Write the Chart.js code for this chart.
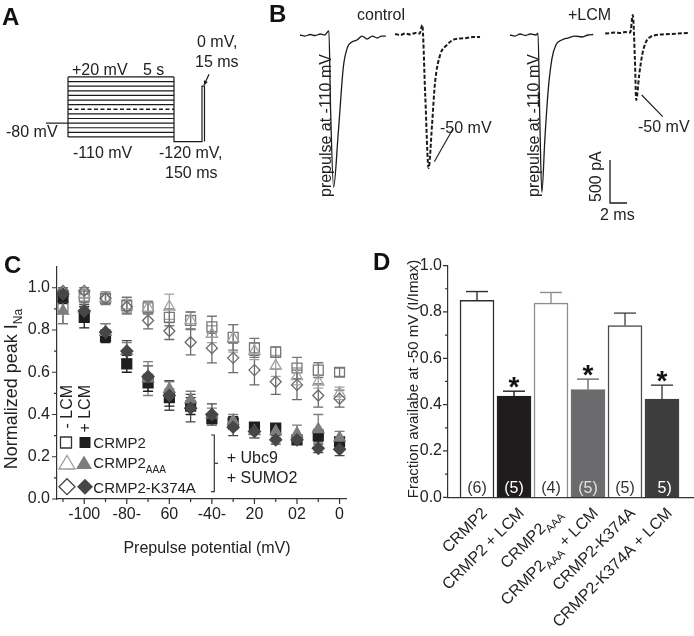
<!DOCTYPE html>
<html>
<head>
<meta charset="utf-8">
<script src="https://cdn.jsdelivr.net/npm/chart.js@4.4.0/dist/chart.umd.min.js"></script>
<style>
  body { margin: 0; background: #fff; width: 694px; height: 636px; position: relative; overflow: hidden; }
  canvas { position: absolute; }
</style>
</head>
<body>
<canvas id="panelA" width="260" height="230" style="left:0;top:0"></canvas>
<canvas id="panelB" width="434" height="230" style="left:260px;top:0"></canvas>
<canvas id="panelC" width="350" height="340" style="left:0;top:250px"></canvas>
<canvas id="panelD" width="334" height="386" style="left:360px;top:250px"></canvas>
<script>
// ---------- A: voltage protocol (schematic, not to scale) ----------
const stepLevels = [20, 10, 0, -10, -20, -30, -40, -50, -60, -70, -80, -90, -100, -110]; // mV
const holdV = -80, recoveryV = -120, testV = 0, dashedLevel = -50;
// hold start, prepulse on, prepulse off, test on, test off (schematic time units)
const protocolTimes = [0, 22, 128, 156, 158.5];

// ---------- B: current traces (ms, pA) ----------
const ctlPre = [[0,0],[0.6,-12],[1.2,6],[1.8,-6],[2.4,12],[2.9,0],[3.4,47],[3.6,-870],[3.95,-1770],[4.5,-1140],[5.1,-372],[5.6,-140],[6.1,-81],[6.7,-58],[7.3,-12],[7.9,-47],[8.5,-12],[9.1,-35],[9.6,-12],[10.1,-12]];
const ctlTest = [[0,12],[0.6,0],[1.2,17],[1.8,6],[2.4,23],[2.9,17],[3.2,116],[3.55,-698],[3.95,-1547],[4.35,-1047],[4.7,-558],[5.3,-233],[6.1,-116],[6.8,-58],[7.6,-41],[8.4,-35],[9.2,-23],[10.0,-23]];
const lcmPre = [[0,0],[0.6,-12],[1.2,12],[1.8,-6],[2.4,12],[3.05,0],[3.3,23],[3.5,-930],[3.75,-1830],[4.1,-1220],[4.5,-640],[4.95,-270],[5.4,-116],[6.1,-58],[6.8,-35],[7.65,-12],[8.5,-23],[9.2,0],[9.8,6]];
const lcmTest = [[0,17],[0.6,23],[1.2,29],[1.8,23],[2.35,35],[2.95,29],[3.25,233],[3.5,-291],[3.65,-756],[4.0,-465],[4.35,-233],[4.8,-81],[5.3,-23],[6.0,0],[6.7,6],[7.65,12],[8.6,17],[9.75,23]];
const scaleBarPa = 500, scaleBarMs = 2;

// ---------- C: steady-state inactivation ----------
const prepulseMv = [-110, -100, -90, -80, -70, -60, -50, -40, -30, -20, -10, 0, 10, 20];
const crmp2Ctl    = [0.91, 0.96, 0.95, 0.915, 0.905, 0.86, 0.845, 0.815, 0.765, 0.715, 0.695, 0.62, 0.61, 0.60];
const crmp2CtlErr = [0.08, 0.03, 0.03, 0.04, 0.03, 0.04, 0.04, 0.05, 0.06, 0.045, 0.025, 0.05, 0.035, 0.02];
const aaaCtl      = [0.975, 0.97, 0.95, 0.915, 0.905, 0.91, 0.845, 0.78, 0.76, 0.70, 0.63, 0.58, 0.555, 0.50];
const aaaCtlErr   = [0.02, 0.02, 0.02, 0.03, 0.03, 0.06, 0.04, 0.04, 0.065, 0.04, 0.05, 0.04, 0.03, 0.03];
const k374Ctl     = [0.985, 0.985, 0.95, 0.91, 0.845, 0.795, 0.742, 0.714, 0.668, 0.61, 0.555, 0.54, 0.49, 0.475];
const k374CtlErr  = [0.015, 0.015, 0.02, 0.03, 0.04, 0.04, 0.06, 0.07, 0.07, 0.07, 0.06, 0.07, 0.055, 0.04];
const crmp2Lcm    = [0.955, 0.86, 0.77, 0.64, 0.55, 0.48, 0.44, 0.38, 0.36, 0.34, 0.335, 0.28, 0.30, 0.27];
const crmp2LcmErr = [0.03, 0.05, 0.03, 0.04, 0.04, 0.04, 0.04, 0.02, 0.03, 0.02, 0.02, 0.02, 0.03, 0.02];
const aaaLcm      = [0.89, 0.90, 0.79, 0.70, 0.57, 0.52, 0.47, 0.40, 0.37, 0.32, 0.32, 0.31, 0.33, 0.29];
const aaaLcmErr   = [0.06, 0.03, 0.04, 0.04, 0.08, 0.035, 0.04, 0.03, 0.03, 0.03, 0.03, 0.04, 0.07, 0.03];
const k374Lcm     = [0.97, 0.89, 0.79, 0.70, 0.58, 0.49, 0.43, 0.40, 0.34, 0.32, 0.28, 0.28, 0.24, 0.235];
const k374LcmErr  = [0.02, 0.03, 0.04, 0.05, 0.05, 0.07, 0.065, 0.05, 0.04, 0.03, 0.02, 0.02, 0.02, 0.03];
const xTickValues = [-100, -80, -60, -40, -20, 0, 20];
const xTickLabels = ['-100', '-80-', '60', '-40-', '20', '02', '0'];

// ---------- D: fraction available at -50 mV ----------
const groups   = ['CRMP2', 'CRMP2 + LCM', 'CRMP2_{AAA}', 'CRMP2_{AAA} + LCM', 'CRMP2-K374A', 'CRMP2-K374A + LCM'];
const barMeans = [0.85, 0.437, 0.838, 0.465, 0.741, 0.424];
const barErr   = [0.038, 0.021, 0.046, 0.045, 0.054, 0.06];
const barN     = ['(6)', '(5)', '(4)', '(5)', '(5)', '5)'];
const starred  = [false, true, false, true, false, true];

// ---------- common ----------
const FONT = '"Liberation Sans", Arial, Helvetica, sans-serif';
const INK = '#222';
Chart.defaults.font.family = FONT;
Chart.defaults.font.size = 16;
Chart.defaults.color = INK;
Chart.defaults.plugins.legend.display = false;
Chart.defaults.plugins.tooltip.enabled = false;

function font(size, bold) { return (bold ? 'bold ' : '') + size + 'px ' + FONT; }

function richParts(text) {
  return text.split(/(_\{[^}]*\})/).filter(s => s).map(s =>
    s.startsWith('_{') ? { t: s.slice(2, -1), sub: true } : { t: s, sub: false });
}
// text with _{sub} pieces, drawn at current transform
function drawRich(ctx, text, x, y, size, align) {
  const parts = richParts(text);
  const subSize = Math.round(size * 0.68);
  let w = 0;
  parts.forEach(p => { ctx.font = font(p.sub ? subSize : size); p.w = ctx.measureText(p.t).width; w += p.w; });
  let cx = align === 'right' ? x - w : align === 'center' ? x - w / 2 : x;
  ctx.textAlign = 'left';
  ctx.textBaseline = 'alphabetic';
  parts.forEach(p => {
    ctx.font = font(p.sub ? subSize : size);
    ctx.fillText(p.t, cx, p.sub ? y + size * 0.3 : y);
    cx += p.w;
  });
}
function text(ctx, s, x, y, size, opts) {
  opts = opts || {};
  ctx.save();
  ctx.fillStyle = opts.color || INK;
  ctx.translate(x, y);
  if (opts.rot) ctx.rotate(opts.rot);
  drawRich(ctx, s, 0, 0, size, opts.align || 'left');
  ctx.restore();
}
function letter(ctx, s, x, y) {
  ctx.save();
  ctx.fillStyle = '#111';
  ctx.font = font(24, true);
  ctx.textAlign = 'left';
  ctx.textBaseline = 'alphabetic';
  ctx.fillText(s, x, y);
  ctx.restore();
}
function line(ctx, pts, color, width) {
  ctx.save();
  ctx.strokeStyle = color || INK;
  ctx.lineWidth = width || 1.2;
  ctx.beginPath();
  pts.forEach((p, i) => i ? ctx.lineTo(p[0], p[1]) : ctx.moveTo(p[0], p[1]));
  ctx.stroke();
  ctx.restore();
}
function seg(points, opts) {
  opts = opts || {};
  return {
    data: points.map(p => ({ x: p[0], y: p[1] })),
    borderColor: opts.color || '#1a1a1a',
    borderWidth: opts.width || 1.2,
    borderDash: opts.dash || [],
    pointRadius: 0,
    fill: false,
    tension: 0,
    cubicInterpolationMode: opts.smooth ? 'monotone' : 'default'
  };
}
const hiddenScales = (xmin, xmax, ymin, ymax) => ({
  x: { type: 'linear', display: false, min: xmin, max: xmax },
  y: { type: 'linear', display: false, min: ymin, max: ymax }
});
const baseOpts = { responsive: false, maintainAspectRatio: false, animation: false, events: [] };

// ---------- panel A ----------
const [t0, t1, t2, t3, t4] = protocolTimes;
const protoSets = [];
protoSets.push(seg([[t0, holdV], [t1, holdV]]));
stepLevels.forEach(v => protoSets.push(
  seg([[t1, v], [t2, v]], v === dashedLevel ? { dash: [4, 2.5], width: 1.6 } : {})));
protoSets.push(seg([[t1, stepLevels[0]], [t1, stepLevels[stepLevels.length - 1]]]));
protoSets.push(seg([[t2, stepLevels[0]], [t2, recoveryV], [t3, recoveryV], [t3, testV], [t4, testV], [t4, recoveryV]]));

new Chart(document.getElementById('panelA'), {
  type: 'line',
  data: { datasets: protoSets },
  options: Object.assign({}, baseOpts, {
    layout: { autoPadding: false, padding: 0 },
    scales: hiddenScales(-46, 214, -311.6, 186.8)
  }),
  plugins: [{
    id: 'aLabels',
    afterDraw(chart) {
      const c = chart.ctx;
      letter(c, 'A', 2, 25);
      text(c, '+20 mV', 72, 75, 16);
      text(c, '5 s', 143, 75, 16);
      text(c, '-80 mV', 6, 137, 16);
      text(c, '-110 mV', 73, 158, 16);
      text(c, '-120 mV,', 159, 158, 16);
      text(c, '150 ms', 165, 177.5, 16);
      text(c, '0 mV,', 197, 46.5, 16);
      text(c, '15 ms', 195, 66.5, 16);
      // arrow to the test pulse
      const xs = chart.scales.x, ys = chart.scales.y;
      const ex = xs.getPixelForValue(t3) + 2, ey = ys.getPixelForValue(testV) - 1;
      const sx = ex + 5, sy = ey - 11;
      line(c, [[sx, sy], [ex, ey]], '#1a1a1a', 1.2);
      const a = Math.atan2(ey - sy, ex - sx);
      c.save();
      c.fillStyle = '#1a1a1a';
      c.beginPath();
      c.moveTo(ex, ey);
      c.lineTo(ex - 5 * Math.cos(a - 0.45), ey - 5 * Math.sin(a - 0.45));
      c.lineTo(ex - 5 * Math.cos(a + 0.45), ey - 5 * Math.sin(a + 0.45));
      c.closePath();
      c.fill();
      c.restore();
    }
  }]
});

// ---------- panel B ----------
const traceStartMs = [0, 11.18, 24.7, 35.9];
const traces = [ctlPre, ctlTest, lcmPre, lcmTest];
const traceSets = traces.map((tr, i) => seg(tr.map(p => [p[0] + traceStartMs[i], p[1]]),
  i % 2 ? { dash: [4, 2], width: 2, smooth: true, color: '#1a1a1a' } : { width: 1.3, smooth: true, color: '#1a1a1a' }));
const barX = 36.47, barY = -1953;
traceSets.push(seg([[barX, barY + scaleBarPa], [barX, barY], [barX + scaleBarMs, barY]], { width: 1.3 }));

new Chart(document.getElementById('panelB'), {
  type: 'line',
  data: { datasets: traceSets },
  options: Object.assign({}, baseOpts, {
    layout: { autoPadding: false, padding: 0 },
    scales: hiddenScales(-4.706, 46.35, -2267, 407)
  }),
  plugins: [{
    id: 'bLabels',
    afterDraw(chart) {
      const c = chart.ctx, o = 260;
      letter(c, 'B', 269 - o, 22);
      text(c, 'control', 357 - o, 20, 16);
      text(c, '+LCM', 568 - o, 20, 16);
      text(c, 'prepulse at -110 mV', 331 - o, 197, 16, { rot: -Math.PI / 2 });
      text(c, 'prepulse at -110 mV', 539 - o, 197, 16, { rot: -Math.PI / 2 });
      text(c, '-50 mV', 440 - o, 133, 16);
      line(c, [[453.3 - o, 128.3], [434.3 - o, 161.7]], '#1a1a1a', 1.1);
      text(c, '-50 mV', 638 - o, 132, 16);
      line(c, [[641.7 - o, 95], [662.7 - o, 116.7]], '#1a1a1a', 1.1);
      text(c, '500 pA', 601 - o, 202, 16, { rot: -Math.PI / 2 });
      text(c, '2 ms', 600 - o, 220, 16);
    }
  }]
});

// ---------- panel C ----------
const errorBars = {
  id: 'errorBars',
  beforeDatasetsDraw(chart, args, opts) {
    const c = chart.ctx, xs = chart.scales.x, ys = chart.scales.y;
    chart.data.datasets.forEach(ds => {
      if (!ds.errors) return;
      c.save();
      c.strokeStyle = ds.borderColor;
      c.lineWidth = opts.width || 1.3;
      ds.data.forEach((p, i) => {
        const e = ds.errors[i];
        const x = xs.getPixelForValue(p.x);
        const yl = ys.getPixelForValue(p.y - e), yh = ys.getPixelForValue(p.y + e);
        const hw = opts.cap || 5;
        c.beginPath();
        c.moveTo(x, yl); c.lineTo(x, yh);
        c.moveTo(x - hw, yh); c.lineTo(x + hw, yh);
        c.moveTo(x - hw, yl); c.lineTo(x + hw, yl);
        c.stroke();
      });
      c.restore();
    });
  }
};

function series(vals, errs, style, radius, color, filled) {
  return {
    data: prepulseMv.map((v, i) => ({ x: v, y: vals[i] })),
    errors: errs,
    pointStyle: style,
    pointRadius: radius,
    borderColor: color,
    backgroundColor: filled ? color : 'rgba(255,255,255,0)',
    borderWidth: 1.3,
    showLine: false
  };
}
// first dataset is drawn on top
const cSets = [
  series(k374Lcm, k374LcmErr, 'rectRot', 6, '#474747', true),
  series(aaaLcm, aaaLcmErr, 'triangle', 6.5, '#7d7d7d', true),
  series(crmp2Lcm, crmp2LcmErr, 'rect', 7, '#1e1e1e', true),
  series(k374Ctl, k374CtlErr, 'rectRot', 5.5, '#6a6a6a', false),
  series(aaaCtl, aaaCtlErr, 'triangle', 6.5, '#a3a3a3', false),
  series(crmp2Ctl, crmp2CtlErr, 'rect', 7, '#777777', false)
];

function tickMarks(c, scale, vertical, isMajor, keep) {
  c.save();
  c.strokeStyle = '#333';
  c.lineWidth = 1.2;
  c.beginPath();
  scale.ticks.forEach(t => {
    if (keep && !keep(t.value)) return;
    const len = isMajor(t.value) ? 5 : 3;
    const p = scale.getPixelForValue(t.value);
    if (vertical) { c.moveTo(scale.right, p); c.lineTo(scale.right - len, p); }
    else { c.moveTo(p, scale.top); c.lineTo(p, scale.top + len); }
  });
  c.stroke();
  c.restore();
}

function legendMark(c, kind, x, y, color, filled) {
  c.save();
  c.strokeStyle = color;
  c.fillStyle = color;
  c.lineWidth = 1.3;
  c.beginPath();
  if (kind === 'square') c.rect(x - 5.5, y - 5.5, 11, 11);
  if (kind === 'triangle') { c.moveTo(x, y - 7.5); c.lineTo(x + 8, y + 6); c.lineTo(x - 8, y + 6); c.closePath(); }
  if (kind === 'diamond') { c.moveTo(x, y - 8); c.lineTo(x + 8, y); c.lineTo(x, y + 8); c.lineTo(x - 8, y); c.closePath(); }
  if (filled) c.fill(); else c.stroke();
  c.restore();
}

new Chart(document.getElementById('panelC'), {
  type: 'scatter',
  data: { datasets: cSets },
  options: Object.assign({}, baseOpts, {
    layout: { autoPadding: false, padding: { top: 11.4, left: 0, right: 0, bottom: 0 } },
    plugins: { errorBars: { cap: 5, width: 1.3 } },
    scales: {
      x: {
        type: 'linear', min: -112.8, max: 23.25,
        grid: { display: false, drawTicks: false },
        border: { color: '#333', width: 1.2 },
        ticks: {
          stepSize: 10, includeBounds: false, autoSkip: false, maxRotation: 0, padding: 6,
          font: { size: 16 }, color: INK,
          callback: v => { const k = xTickValues.indexOf(Math.round(v)); return k >= 0 ? xTickLabels[k] : ''; }
        },
        afterFit: s => { s.height = 91; }
      },
      y: {
        type: 'linear', min: 0, max: 1.1,
        grid: { display: false, drawTicks: false },
        border: { color: '#333', width: 1.2 },
        ticks: {
          stepSize: 0.1, includeBounds: false, autoSkip: false, padding: 7,
          font: { size: 16 }, color: INK,
          callback: v => { const k = Math.round(v * 10); return (k % 2 === 0 && k <= 10) ? v.toFixed(1) : ''; }
        },
        afterFit: s => { s.width = 57; }
      }
    }
  }),
  plugins: [errorBars, {
    id: 'cDecor',
    afterDraw(chart) {
      const c = chart.ctx, o = 250;
      tickMarks(c, chart.scales.y, true, v => Math.round(v * 10) % 2 === 0, v => v <= 1.0001);
      tickMarks(c, chart.scales.x, false, v => Math.round(v) % 20 === 0);
      letter(c, 'C', 4, 273 - o);
      text(c, 'Normalized peak I_{Na}', 17, 389 - o, 18, { rot: -Math.PI / 2, align: 'center' });
      text(c, 'Prepulse potential (mV)', 207, 553 - o, 16, { align: 'center' });
      // legend
      text(c, '- LCM', 72, 428.5 - o, 16, { rot: -Math.PI / 2 });
      text(c, '+ LCM', 90, 432.6 - o, 16, { rot: -Math.PI / 2 });
      legendMark(c, 'square', 66, 442.5 - o, '#333', false);
      legendMark(c, 'square', 85, 442.5 - o, '#1e1e1e', true);
      legendMark(c, 'triangle', 67, 463 - o, '#9a9a9a', false);
      legendMark(c, 'triangle', 84, 463 - o, '#7d7d7d', true);
      legendMark(c, 'diamond', 67, 486.7 - o, '#444', false);
      legendMark(c, 'diamond', 85, 486.7 - o, '#474747', true);
      text(c, 'CRMP2', 93.3, 448.3 - o, 15);
      text(c, 'CRMP2_{AAA}', 93.3, 468.3 - o, 15);
      text(c, 'CRMP2-K374A', 93.3, 493.3 - o, 15);
      line(c, [[211, 435 - o], [214.3, 435 - o], [214.3, 491.7 - o], [211, 491.7 - o]], '#333', 1.2);
      line(c, [[214.3, 463.3 - o], [218, 463.3 - o]], '#333', 1.2);
      text(c, '+ Ubc9', 226.7, 463.3 - o, 16);
      text(c, '+ SUMO2', 226.7, 483.3 - o, 16);
    }
  }]
});

// ---------- panel D ----------
const barFill = ['#ffffff', '#1f1c1d', '#ffffff', '#6b6b6d', '#ffffff', '#3d3d3d'];
const barEdge = ['#2e2e2e', '#1f1c1d', '#8c8c8c', '#6b6b6d', '#4a4a4a', '#3d3d3d'];
const nColor  = ['#333', '#fff', '#333', '#e2e2e2', '#333', '#fff'];

new Chart(document.getElementById('panelD'), {
  type: 'bar',
  data: {
    datasets: [{
      data: barMeans.map((v, i) => ({ x: i, y: v })),
      backgroundColor: barFill,
      borderColor: barEdge,
      borderWidth: 1.5,
      barThickness: 34
    }]
  },
  options: Object.assign({}, baseOpts, {
    layout: { autoPadding: false, padding: { top: 11.7, left: 0, right: 1, bottom: 0 } },
    scales: {
      x: {
        type: 'linear', min: -0.784, max: 5.838, offset: false,
        grid: { display: false, drawTicks: false },
        border: { color: '#333', width: 1.2 },
        ticks: { display: false },
        afterFit: s => { s.height = 138.7; }
      },
      y: {
        type: 'linear', min: 0, max: 1.0,
        grid: { display: false, drawTicks: false },
        border: { color: '#333', width: 1.2 },
        ticks: {
          stepSize: 0.1, autoSkip: false, padding: 6, font: { size: 16 }, color: INK,
          callback: v => Math.round(v * 10) % 2 === 0 ? v.toFixed(1) : ''
        },
        afterFit: s => { s.width = 88; }
      }
    }
  }),
  plugins: [{
    id: 'dDecor',
    afterDatasetsDraw(chart) {
      const c = chart.ctx, xs = chart.scales.x, ys = chart.scales.y, o = 360, oy = 250;
      barMeans.forEach((m, i) => {
        const x = xs.getPixelForValue(i);
        const yt = ys.getPixelForValue(m), ye = ys.getPixelForValue(m + barErr[i]);
        // upper error bar
        line(c, [[x, yt], [x, ye]], barEdge[i], 1.4);
        line(c, [[x - 11, ye], [x + 11, ye]], barEdge[i], 1.4);
        if (starred[i]) {
          c.save();
          c.fillStyle = '#111';
          c.font = font(28, true);
          c.textAlign = 'center';
          c.textBaseline = 'alphabetic';
          c.fillText('*', x, ye + 4.5);
          c.restore();
        }
        c.save();
        c.fillStyle = nColor[i];
        c.font = font(16);
        c.textAlign = 'right';
        c.textBaseline = 'alphabetic';
        c.fillText(barN[i], x + 9.8, 493 - oy);
        c.restore();
        text(c, groups[i], x + 11, 514 - oy, 16, { rot: -Math.PI / 4, align: 'right' });
      });
      tickMarks(c, ys, true, v => Math.round(v * 10) % 2 === 0);
      letter(c, 'D', 373 - o, 270 - oy);
      text(c, 'Fraction availabe at -50 mV (I/Imax)', 418 - o, 379 - oy, 15, { rot: -Math.PI / 2, align: 'center' });
    }
  }]
});
</script>
</body>
</html>
